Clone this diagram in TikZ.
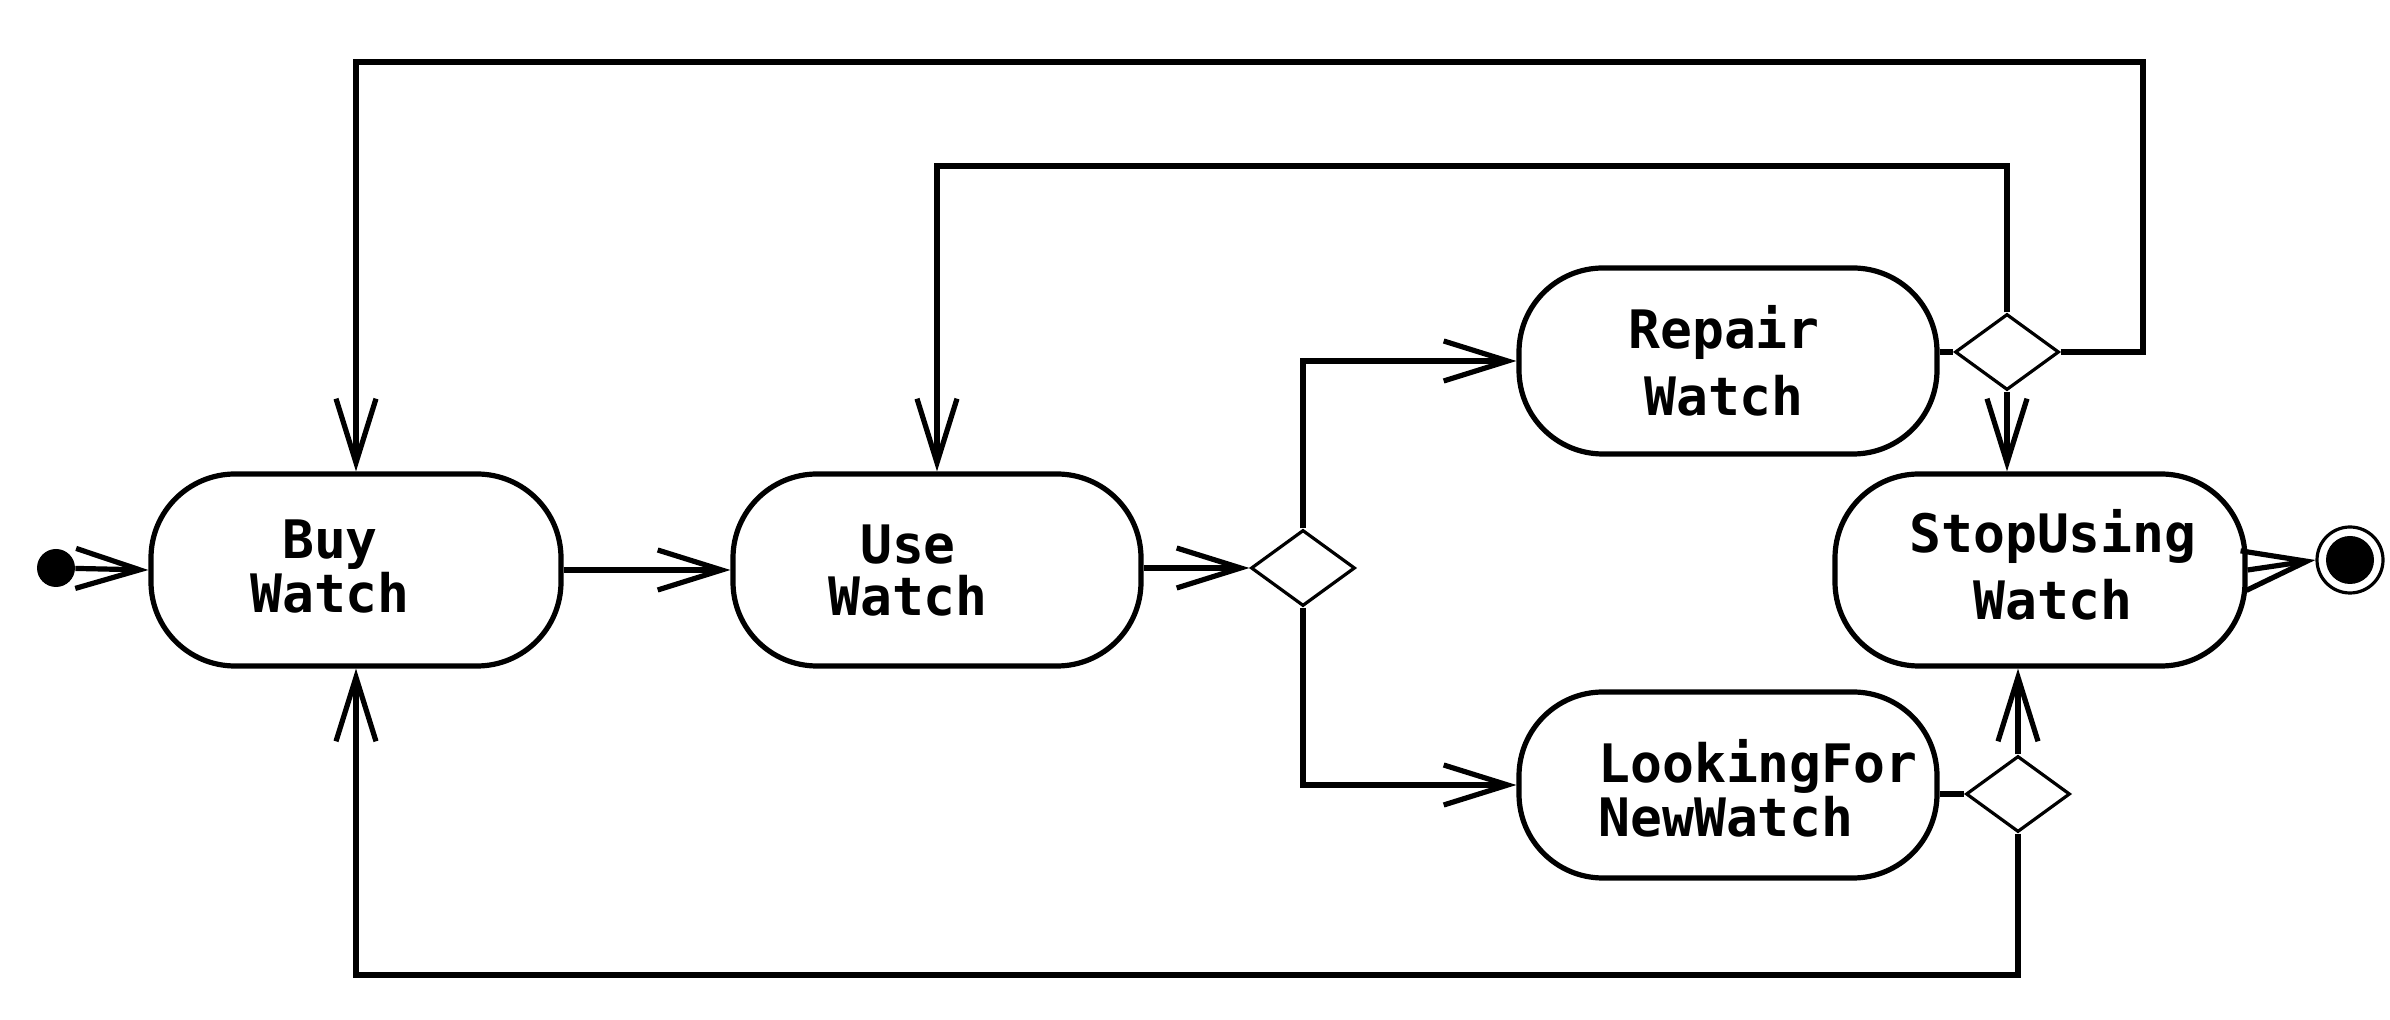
\documentclass[tikz,border=0pt]{standalone}
\usepackage{fontspec}
\newfontfamily\monob{DejaVu Sans Mono}
\usetikzlibrary{arrows.meta,shapes.geometric,calc}
\begin{document}
\lineskiplimit=-100pt
\begin{tikzpicture}[x=0.5pt,y=-0.5pt,
  statebox/.style={draw, line width=2.6pt, rounded corners=42pt, minimum width=205pt, minimum height=96pt, inner sep=0pt},
  decision/.style={draw, diamond, line width=1.6pt, minimum width=52pt, minimum height=38pt, inner sep=0pt, fill=white},
  lbl/.style={font=\monob\bfseries\fontsize{26.5}{#1}\selectfont, align=center, inner sep=0pt},
  conn/.style={line width=2.6pt},
  arr/.style={line width=2.6pt, -{Straight Barb[length=32pt,width=20pt]}}
]
\useasboundingbox (0,0) rectangle (2390,1020);
\fill[white] (0,0) rectangle (2390,1020);

% states
\node[statebox] (buy) at (356,570) {};
\node[statebox, minimum width=204pt] (use) at (937,570) {};
\node[statebox, minimum width=209pt, minimum height=93pt] (repair) at (1728,361) {};
\node[statebox, minimum width=209pt, minimum height=93pt] (look) at (1728,785) {};
\node[statebox] (stop) at (2040,570) {};

% labels
\node[lbl=27pt] (buyt) at (330,567) {Buy\\Watch};
\node[lbl=26pt] (uset) at (908,571) {Use\\Watch};
\node[lbl=33.5pt] (repairt) at (1724,361) {Repair\\Watch};
\node[lbl=33.5pt] (stopt) at (2053,565) {StopUsing\\Watch};
\node[lbl=27pt, align=left, anchor=west] (lookt) at (1598,788) {LookingFor\\NewWatch};

% decisions
\node[decision] (d1) at (1303,568) {};
\node[decision] (d2) at (2007,352) {};
\node[decision] (d3) at (2018,794) {};

% initial / final
\node[circle, fill=black, inner sep=0pt, minimum size=19pt] (ini) at (56,568) {};
\node[circle, draw, line width=1.6pt, fill=white, inner sep=0pt, minimum size=33pt] (fin) at (2350,560) {};
\node[circle, fill=black, inner sep=0pt, minimum size=24pt] (fininner) at (fin) {};

% helper coordinates
\coordinate (topA) at (2143,62);
\coordinate (topB) at (0,166);
\coordinate (botA) at (0,975);

% connectors
\draw[arr] (ini) -- (buy.west);
\draw[arr] (buy.east) -- (use.west);
\draw[arr] (d1.west -| use.east) -- (d1.west);
\draw[arr] (d1.north) |- (repair.west);
\draw[arr] (d1.south) |- (look.west);
\draw[conn] (d2.west -| repair.east) -- (d2.west);
\draw[conn] (d3.west -| look.east) -- (d3.west);
\draw[arr] (d2.north) |- (use.north |- topB) -- (use.north);
\draw[arr] (d2.east) -| (topA) -| (buy.north);
\draw[arr] (d2.south) -- (d2.south |- stop.north);
\draw[arr] (d3.north) -- (d3.north |- stop.south);
\draw[arr] (d3.south) |- (buy.south |- botA) -- (buy.south);
\draw[arr] (stop.east) -- (fin.west);
\end{tikzpicture}
\end{document}
